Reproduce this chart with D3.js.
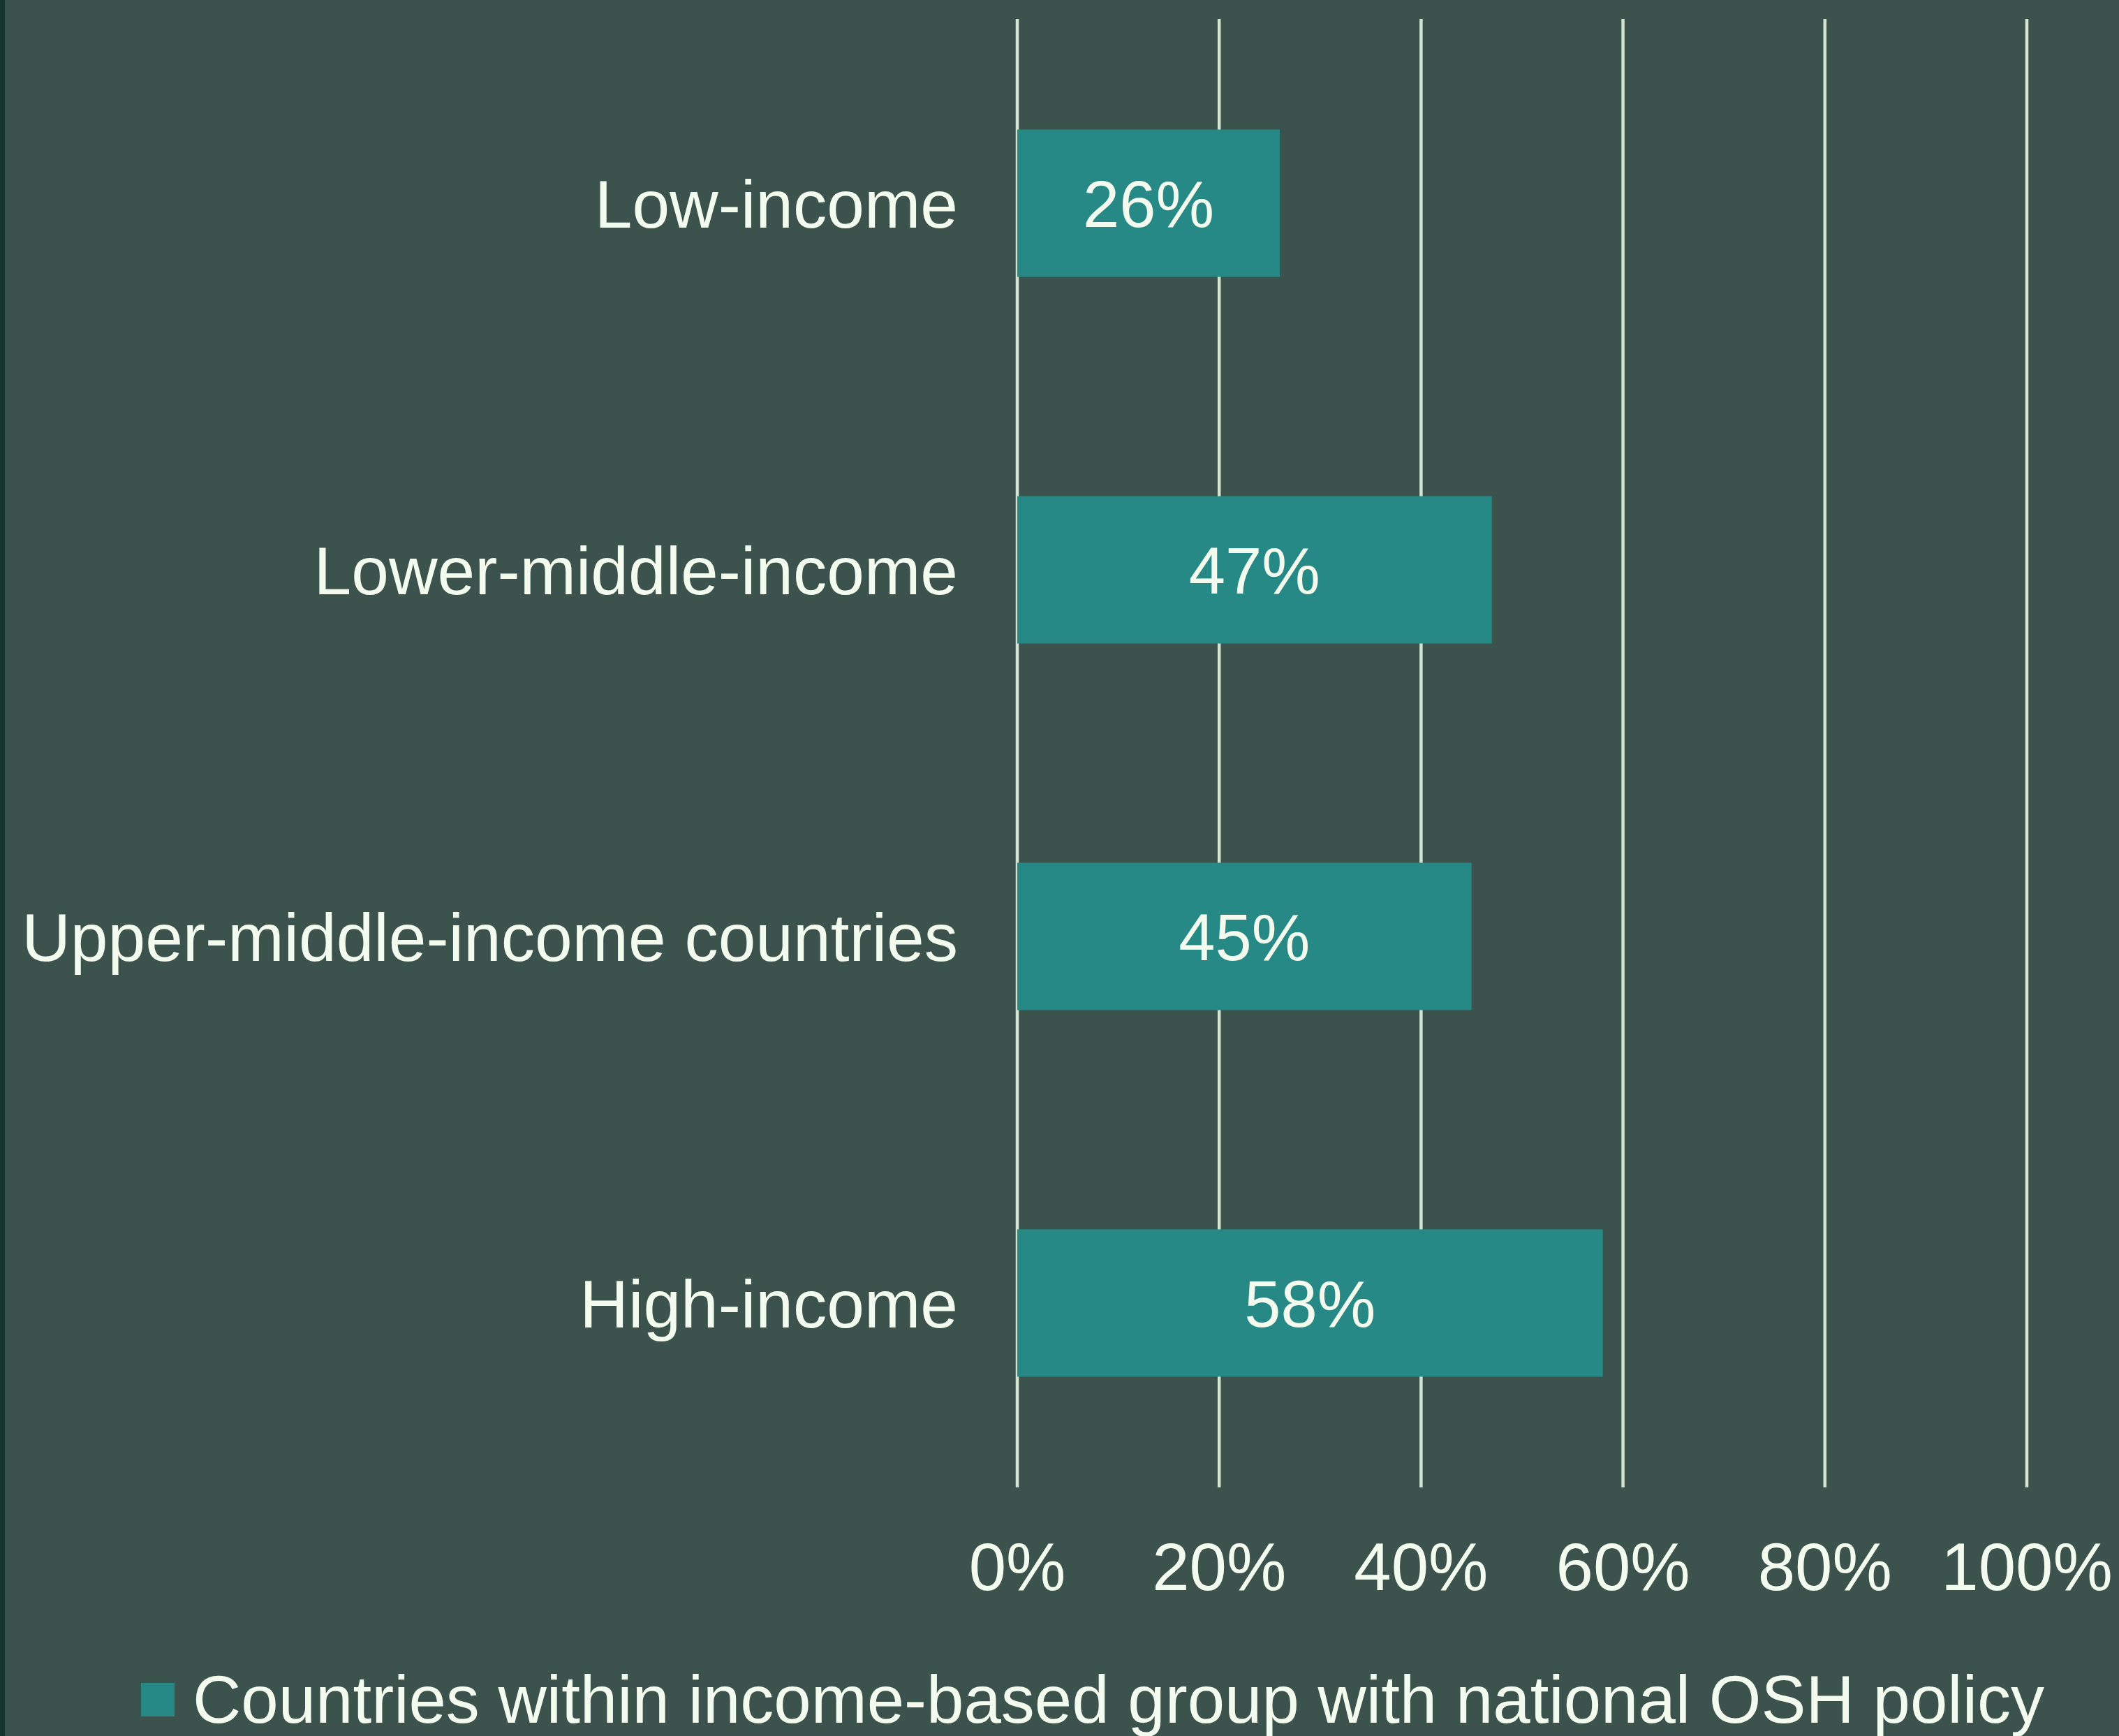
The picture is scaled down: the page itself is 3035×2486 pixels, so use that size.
<!DOCTYPE html>
<html>
<head>
<meta charset="utf-8">
<script src="https://cdn.jsdelivr.net/npm/d3@7"></script>
<style>
	html, body { margin: 0; padding: 0; background: #3b534c; }
	text { font-family: "Liberation Sans", Arial, sans-serif; fill: #f3faee; }
</style>
</head>
<body>
<div id="chart"></div>
<script>
var categories = ["Low-income", "Lower-middle-income", "Upper-middle-income countries", "High-income"];
var values = [26, 47, 45, 58];
var ticks = [0, 20, 40, 60, 80, 100];
var seriesName = "Countries within income-based group with national OSH policy";

var W = 3035,
	H = 2486,
	margin = {top: 27, right: 132, bottom: 356, left: 1457};

var barColor = "#278985",
	gridColor = "#d3e5d0";

var svg = d3.select("#chart").append("svg")
	.attr("width", W)
	.attr("height", H);

/* background */
svg.append("rect")
	.attr("width", W)
	.attr("height", H)
	.attr("fill", "#3b534c");

svg.append("rect")
	.attr("width", 7)
	.attr("height", H)
	.attr("fill", "#163330");

var x = d3.scaleLinear()
	.domain([0, 100])
	.range([margin.left, W - margin.right]);

var y = d3.scaleBand()
	.domain(categories)
	.range([margin.top, H - margin.bottom])
	.paddingInner(0.598)
	.paddingOuter(0.302);

/* gridlines */
svg.append("g")
	.selectAll("line")
	.data(ticks)
	.enter().append("line")
	.attr("x1", function(d) { return x(d); })
	.attr("x2", function(d) { return x(d); })
	.attr("y1", margin.top)
	.attr("y2", H - margin.bottom)
	.attr("stroke", gridColor)
	.attr("stroke-width", 4.5);

/* x tick labels */
svg.append("g")
	.selectAll("text")
	.data(ticks)
	.enter().append("text")
	.attr("x", function(d) { return x(d); })
	.attr("y", 2277)
	.attr("text-anchor", "middle")
	.style("font-size", "96px")
	.text(function(d) { return d + "%"; });

/* bars */
svg.append("g")
	.selectAll("rect")
	.data(values)
	.enter().append("rect")
	.attr("x", x(0))
	.attr("y", function(d, i) { return y(categories[i]); })
	.attr("width", function(d) { return x(d) - x(0); })
	.attr("height", y.bandwidth())
	.attr("fill", barColor);

/* value labels */
svg.append("g")
	.selectAll("text")
	.data(values)
	.enter().append("text")
	.attr("x", function(d) { return (x(0) + x(d)) / 2; })
	.attr("y", function(d, i) { return y(categories[i]) + y.bandwidth() / 2; })
	.attr("dy", "0.36em")
	.attr("text-anchor", "middle")
	.style("font-size", "94px")
	.text(function(d) { return d + "%"; });

/* category labels */
svg.append("g")
	.selectAll("text")
	.data(categories)
	.enter().append("text")
	.attr("x", x(0) - 85)
	.attr("y", function(d) { return y(d) + y.bandwidth() / 2; })
	.attr("dy", "0.36em")
	.attr("text-anchor", "end")
	.style("font-size", "96.5px")
	.text(function(d) { return d; });

/* legend */
var legend = svg.append("g")
	.attr("transform", "translate(202,2410)");

legend.append("rect")
	.attr("width", 48)
	.attr("height", 48)
	.attr("fill", barColor);

legend.append("text")
	.attr("x", 74)
	.attr("y", 57)
	.style("font-size", "96px")
	.text(seriesName);
</script>
</body>
</html>
